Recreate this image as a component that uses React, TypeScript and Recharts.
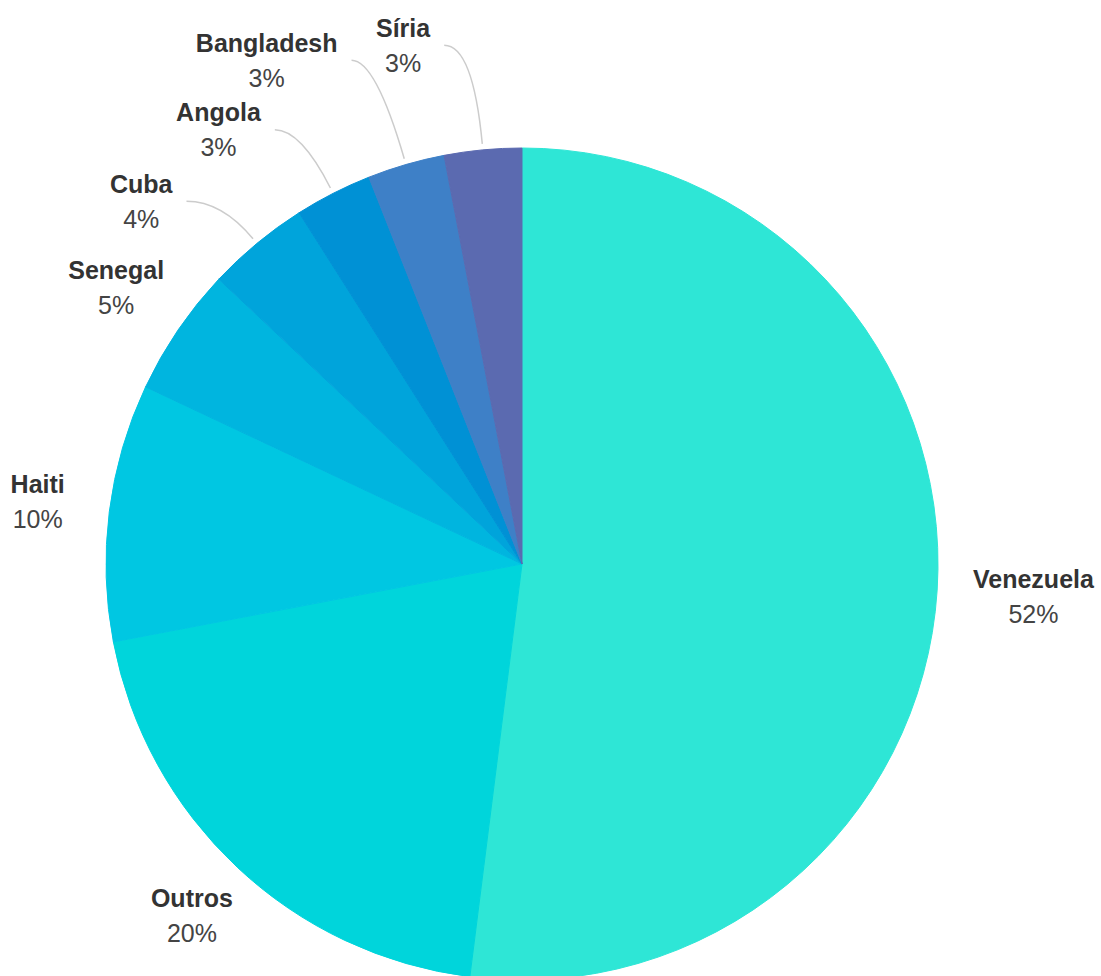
import React from "react";
import { PieChart, Pie, Cell } from "recharts";

const countries = ["Venezuela", "Outros", "Haiti", "Senegal", "Cuba", "Angola", "Bangladesh", "Síria"];
const shares = [52, 20, 10, 5, 4, 3, 3, 3];
const colors = ["#2EE6D6", "#00D5DB", "#00C7E2", "#00B5DF", "#00A4DB", "#0091D5", "#3E80C7", "#5B6AB0"];

// label layout nudges (px) from default position
const labelNudge: [number, number][] = [
  [2, 2],
  [6, -2],
  [-11, -2],
  [6, -4],
  [-74, 11],
  [-80, -2],
  [-110, -38],
  [-74, -36],
];

const data = countries.map((name, i) => ({ name, value: shares[i] }));

const FONT_SIZE = 25;
const FONT_FAMILY = '"Liberation Sans", Arial, sans-serif';
const RAD = Math.PI / 180;

let ctx: CanvasRenderingContext2D | null = null;
function measure(text: string, bold: boolean): number {
  if (!ctx) {
    const c = document.createElement("canvas");
    ctx = c.getContext("2d");
  }
  if (!ctx) return text.length * FONT_SIZE * 0.55;
  ctx.font = `${bold ? "700" : "400"} ${FONT_SIZE}px ${FONT_FAMILY}`;
  return ctx.measureText(text).width;
}

const renderLabel = (props: any) => {
  const { cx, cy, midAngle, outerRadius, percent, index, name } = props;
  const ux = Math.cos(midAngle * RAD);
  const uy = -Math.sin(midAngle * RAD);
  const pctText = `${Math.round(percent * 100)}%`;
  const halfW = Math.max(measure(name, true), measure(pctText, false)) / 2;
  const halfH = 35;
  const r0 = outerRadius + 34;
  const [nx, ny] = labelNudge[index] || [0, 0];
  const bx = cx + ux * (r0 + halfW) + nx;
  const by = cy + uy * (r0 + halfH) + ny;
  const showLine = Math.hypot(nx, ny) > 30;
  let path = null;
  if (showLine) {
    const ex = cx + ux * (outerRadius + 6);
    const ey = cy + uy * (outerRadius + 6);
    const sx = bx + halfW + 14;
    const sy = by;
    const t = (sy - ey) / uy;
    const qx = ex + t * ux;
    path = (
      <path
        d={`M${sx},${sy} Q${qx},${sy} ${ex},${ey}`}
        fill="none"
        stroke="#cccccc"
        strokeWidth={1.5}
      />
    );
  }
  return (
    <g key={`lbl-${index}`}>
      {path}
      <text
        x={bx}
        y={by - 8.5}
        textAnchor="middle"
        fontFamily={FONT_FAMILY}
        fontSize={FONT_SIZE}
        fontWeight={700}
        fill="#333333"
      >
        {name}
      </text>
      <text
        x={bx}
        y={by + 26.5}
        textAnchor="middle"
        fontFamily={FONT_FAMILY}
        fontSize={FONT_SIZE}
        fontWeight={400}
        fill="#444444"
      >
        {pctText}
      </text>
    </g>
  );
};

export default function App() {
  return (
    <div style={{ position: "absolute", left: 0, top: 0, width: 1101, height: 976, background: "#fff" }}>
      <PieChart width={1101} height={976} margin={{ top: 0, right: 0, bottom: 0, left: 0 }}>
        <Pie
          data={data}
          dataKey="value"
          nameKey="name"
          cx={522}
          cy={564}
          outerRadius={416}
          startAngle={90}
          endAngle={-270}
          isAnimationActive={false}
          labelLine={false}
          label={renderLabel}
        >
          {data.map((d, i) => (
            <Cell key={d.name} fill={colors[i]} stroke={colors[i]} strokeWidth={1} />
          ))}
        </Pie>
      </PieChart>
    </div>
  );
}
